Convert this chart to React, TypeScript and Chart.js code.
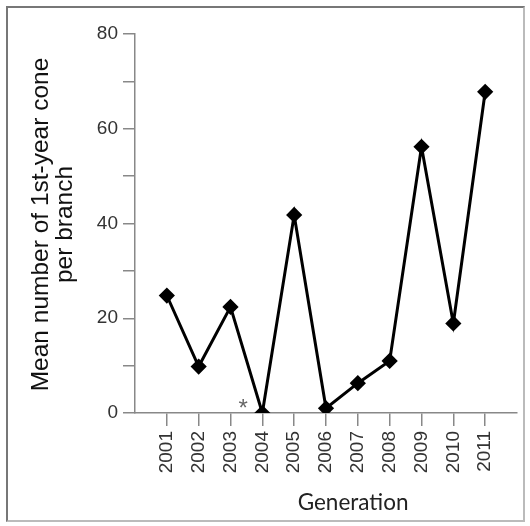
import React, { useEffect, useRef } from "react";
import { Chart, registerables } from "chart.js";

Chart.register(...registerables);

const years = [2001, 2002, 2003, 2004, 2005, 2006, 2007, 2008, 2009, 2010, 2011];
const meanCones = [24.8, 9.8, 22.4, 0, 41.8, 1.0, 6.3, 11.0, 56.2, 18.9, 67.8];
const yTickLabels = [0, 20, 40, 60, 80];
const yTitle = ["Mean number of 1st-year cone", "per branch"];
const xTitle = "Generation";
const asteriskYear = 2003.4;
const asteriskValue = 1.6;

const SANS = "Arial, 'Liberation Sans', Helvetica, sans-serif";

export default function App() {
  const ref = useRef<HTMLCanvasElement | null>(null);

  useEffect(() => {
    if (!ref.current) return;
    const annotate = {
      id: "annotate",
      afterDraw(chart: any) {
        const ctx = chart.ctx;
        const xs = chart.scales.x;
        const ys = chart.scales.y;
        const area = chart.chartArea;
        ctx.save();
        ctx.fillStyle = "#666";
        ctx.font = "24px " + SANS;
        ctx.textAlign = "center";
        ctx.textBaseline = "middle";
        ctx.fillText("*", xs.getPixelForValue(asteriskYear), ys.getPixelForValue(asteriskValue) + 4);
        ctx.fillStyle = "#222";
        ctx.font = "22.5px Lato";
        ctx.fillText(xTitle, xs.getPixelForValue(2006.85), 503);
        ctx.restore();

        // y-axis title (two lines)
        const cy = (area.top + area.bottom) / 2 + 1;
        const baselines = [48, 72];
        ctx.save();
        ctx.fillStyle = "#111";
        ctx.font = "24.5px " + SANS;
        ctx.textAlign = "center";
        ctx.textBaseline = "alphabetic";
        yTitle.forEach((line, i) => {
          ctx.save();
          ctx.translate(baselines[i], cy);
          ctx.rotate(-Math.PI / 2);
          ctx.fillText(line, 0, 0);
          ctx.restore();
        });
        ctx.restore();
      },
    };
    const chart = new Chart(ref.current, {
      type: "line",
      data: {
        datasets: [
          {
            data: years.map((y, i) => ({ x: y, y: meanCones[i] })),
            borderColor: "#000",
            backgroundColor: "#000",
            borderWidth: 3,
            pointStyle: "rectRot",
            pointRadius: 6,
            pointHoverRadius: 6,
            tension: 0,
          },
        ],
      },
      options: {
        animation: false,
        responsive: false,
        events: [],
        layout: { padding: { left: 0, top: 34, right: 13, bottom: 0 } },
        plugins: { legend: { display: false }, tooltip: { enabled: false } },
        scales: {
          x: {
            type: "linear",
            min: 2000,
            max: 2012,
            afterBuildTicks: (scale: any) => {
              scale.ticks = years.map((v) => ({ value: v }));
            },
            afterFit: (scale: any) => {
              scale.height = 113;
            },
            ticks: {
              stepSize: 1,
              minRotation: 90,
              maxRotation: 90,
              padding: 5,
              color: "#333",
              font: { family: SANS, size: 19 },
              callback: (v: any) => String(v),
            },
            grid: { drawOnChartArea: false, drawTicks: true, tickLength: 13, color: "#888", lineWidth: 1.5 },
            border: { color: "#888", width: 1.5 },
          },
          y: {
            min: 0,
            max: 80,
            afterFit: (scale: any) => {
              scale.width = 135;
            },
            ticks: {
              stepSize: 10,
              padding: 5,
              color: "#333",
              font: { family: SANS, size: 19 },
              callback: (v: any) => (yTickLabels.includes(Number(v)) ? String(v) : ""),
            },
            grid: { drawOnChartArea: false, drawTicks: true, tickLength: 12, color: "#888", lineWidth: 1.5 },
            border: { color: "#888", width: 1.5 },
          },
        },
      },
      plugins: [annotate],
    });
    return () => chart.destroy();
  }, []);

  return (
    <div style={{ position: "fixed", left: 0, top: 0, width: 530, height: 526, background: "#fff" }}>
      <div
        style={{
          position: "absolute",
          left: 6,
          top: 6,
          width: 515,
          height: 512,
          border: "2px solid #777",
          borderRightColor: "#bbb",
          borderBottomColor: "#bbb",
        }}
      />
      <canvas ref={ref} width={530} height={526} style={{ position: "absolute", left: 0, top: 0 }} />
    </div>
  );
}
